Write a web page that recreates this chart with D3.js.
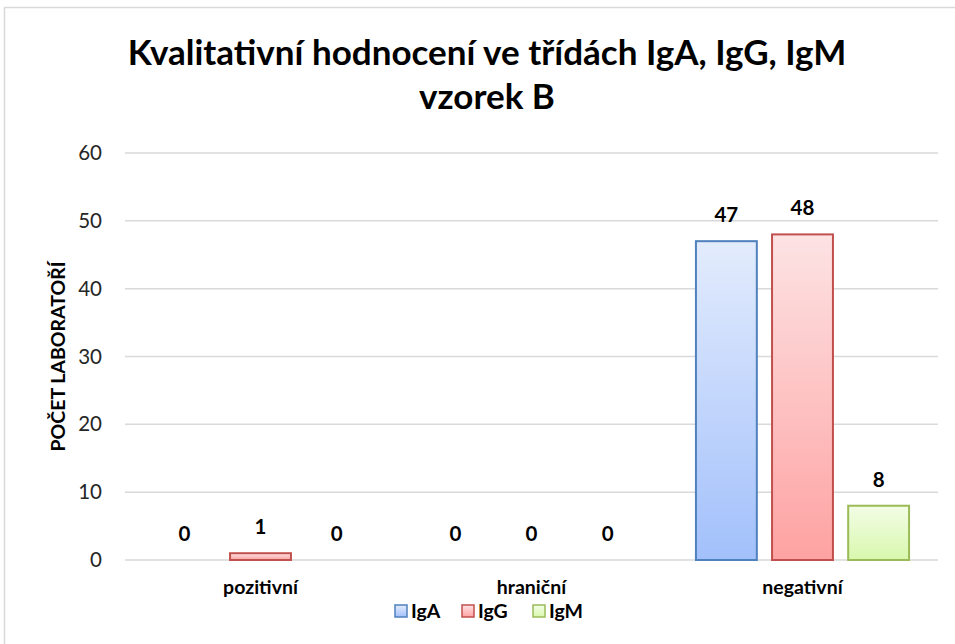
<!DOCTYPE html>
<html>
<head>
    <meta charset="utf-8">
    <title>Kvalitativní hodnocení</title>
    <script src="https://d3js.org/d3.v7.min.js"></script>
    <style>
        body { margin: 0; background: #fff; }
        text { font-family: Lato, "Open Sans", sans-serif; }
    </style>
</head>
<body>
    <svg id="chart"></svg>

    <script>
        const categories = ["pozitivní", "hraniční", "negativní"];
        const seriesNames = ["IgA", "IgG", "IgM"];
        const IgA = [0, 0, 47];
        const IgG = [1, 0, 48];
        const IgM = [0, 0, 8];
        const yTicks = [0, 10, 20, 30, 40, 50, 60];

        const values = [IgA, IgG, IgM];
        const colors = [
            { top: "#e3ecfd", bottom: "#a2c0fb", stroke: "#4f81bd" },
            { top: "#fde3e4", bottom: "#fea2a2", stroke: "#c0504d" },
            { top: "#f3fde6", bottom: "#d8f8ad", stroke: "#9bbb59" }
        ];

        const width = 955, height = 644;
        const margin = { top: 153, right: 17, bottom: 84, left: 125 };

        const svg = d3.select("#chart")
            .attr("width", width)
            .attr("height", height);

        // chart frame (runs off the right and bottom edge)
        svg.append("rect")
            .attr("x", 4.5).attr("y", 7.5)
            .attr("width", 1000).attr("height", 700)
            .attr("fill", "#fff")
            .attr("stroke", "#d9d9d9")
            .attr("stroke-width", 1.5);

        const defs = svg.append("defs");
        colors.forEach((c, i) => {
            const g = defs.append("linearGradient")
                .attr("id", "grad" + i)
                .attr("x1", 0).attr("y1", 0).attr("x2", 0).attr("y2", 1);
            g.append("stop").attr("offset", "0%").attr("stop-color", c.top);
            g.append("stop").attr("offset", "100%").attr("stop-color", c.bottom);
        });

        const plot = svg.append("g")
            .attr("transform", `translate(${margin.left},${margin.top})`);
        const w = width - margin.left - margin.right;
        const h = height - margin.top - margin.bottom;

        const x = d3.scaleBand()
            .domain(categories)
            .range([0, w])
            .paddingInner(0)
            .paddingOuter(0);

        const x1 = d3.scaleBand()
            .domain(seriesNames)
            .range([0, x.bandwidth()])
            .paddingInner(0.2)
            .paddingOuter(0.38);

        const y = d3.scaleLinear()
            .domain([0, 60])
            .range([h, 0]);

        // gridlines
        plot.append("g")
            .selectAll("line")
            .data(yTicks)
            .join("line")
            .attr("x1", 0).attr("x2", w)
            .attr("y1", d => y(d)).attr("y2", d => y(d))
            .attr("stroke", "#d9d9d9")
            .attr("stroke-width", 1.5);

        // y axis labels
        const yAxis = plot.append("g")
            .attr("transform", "translate(-10,0)")
            .call(d3.axisLeft(y).tickValues(yTicks).tickSize(0).tickPadding(13));
        yAxis.select(".domain").remove();
        yAxis.selectAll("text")
            .attr("font-family", "Lato, sans-serif")
            .attr("font-size", 20.5)
            .attr("fill", "#262626");

        // x axis labels
        const xAxis = plot.append("g")
            .attr("transform", `translate(0,${h})`)
            .call(d3.axisBottom(x).tickSize(0).tickPadding(20));
        xAxis.select(".domain").remove();
        xAxis.selectAll("text")
            .attr("font-family", "Lato, sans-serif")
            .attr("font-size", 19.5)
            .attr("font-weight", "bold")
            .attr("fill", "#000");

        // bars
        const groups = plot.selectAll(".series")
            .data(seriesNames)
            .join("g")
            .attr("class", "series");

        groups.each(function (s, si) {
            const g = d3.select(this);
            const data = categories.map((c, ci) => ({ c, v: values[si][ci] }));
            g.selectAll("rect")
                .data(data.filter(d => d.v > 0))
                .join("rect")
                .attr("x", d => x(d.c) + x1(s))
                .attr("y", d => y(d.v))
                .attr("width", x1.bandwidth())
                .attr("height", d => y(0) - y(d.v))
                .attr("fill", `url(#grad${si})`)
                .attr("stroke", colors[si].stroke)
                .attr("stroke-width", 2);
            g.selectAll("text")
                .data(data)
                .join("text")
                .attr("x", d => x(d.c) + x1(s) + x1.bandwidth() / 2)
                .attr("y", d => y(d.v) - 19)
                .attr("text-anchor", "middle")
                .attr("font-size", 20.5)
                .attr("font-weight", "bold")
                .attr("fill", "#000")
                .text(d => d.v);
        });

        // y axis title
        svg.append("text")
            .attr("transform", `translate(65,${margin.top + h / 2}) rotate(-90)`)
            .attr("text-anchor", "middle")
            .attr("font-size", 19.5)
            .attr("font-weight", "bold")
            .attr("fill", "#000")
            .text("POČET LABORATOŘÍ");

        // title
        const title = svg.append("text")
            .attr("text-anchor", "middle")
            .attr("font-size", 35)
            .attr("font-weight", "bold")
            .attr("fill", "#000");
        title.append("tspan").attr("x", 487).attr("y", 65)
            .text("Kvalitativní hodnocení ve třídách IgA, IgG, IgM");
        title.append("tspan").attr("x", 487).attr("y", 109)
            .text("vzorek B");

        // legend
        const legendX = [395, 462, 533];
        const legend = svg.append("g");
        seriesNames.forEach((s, i) => {
            const lg = legend.append("g").attr("transform", `translate(${legendX[i]},605)`);
            lg.append("rect")
                .attr("width", 12).attr("height", 12)
                .attr("fill", `url(#grad${i})`)
                .attr("stroke", colors[i].stroke)
                .attr("stroke-width", 1.5);
            lg.append("text")
                .attr("x", 16).attr("y", 13)
                .attr("font-size", 19.5)
                .attr("font-weight", "bold")
                .attr("fill", "#000")
                .text(s);
        });
    </script>
</body>
</html>
